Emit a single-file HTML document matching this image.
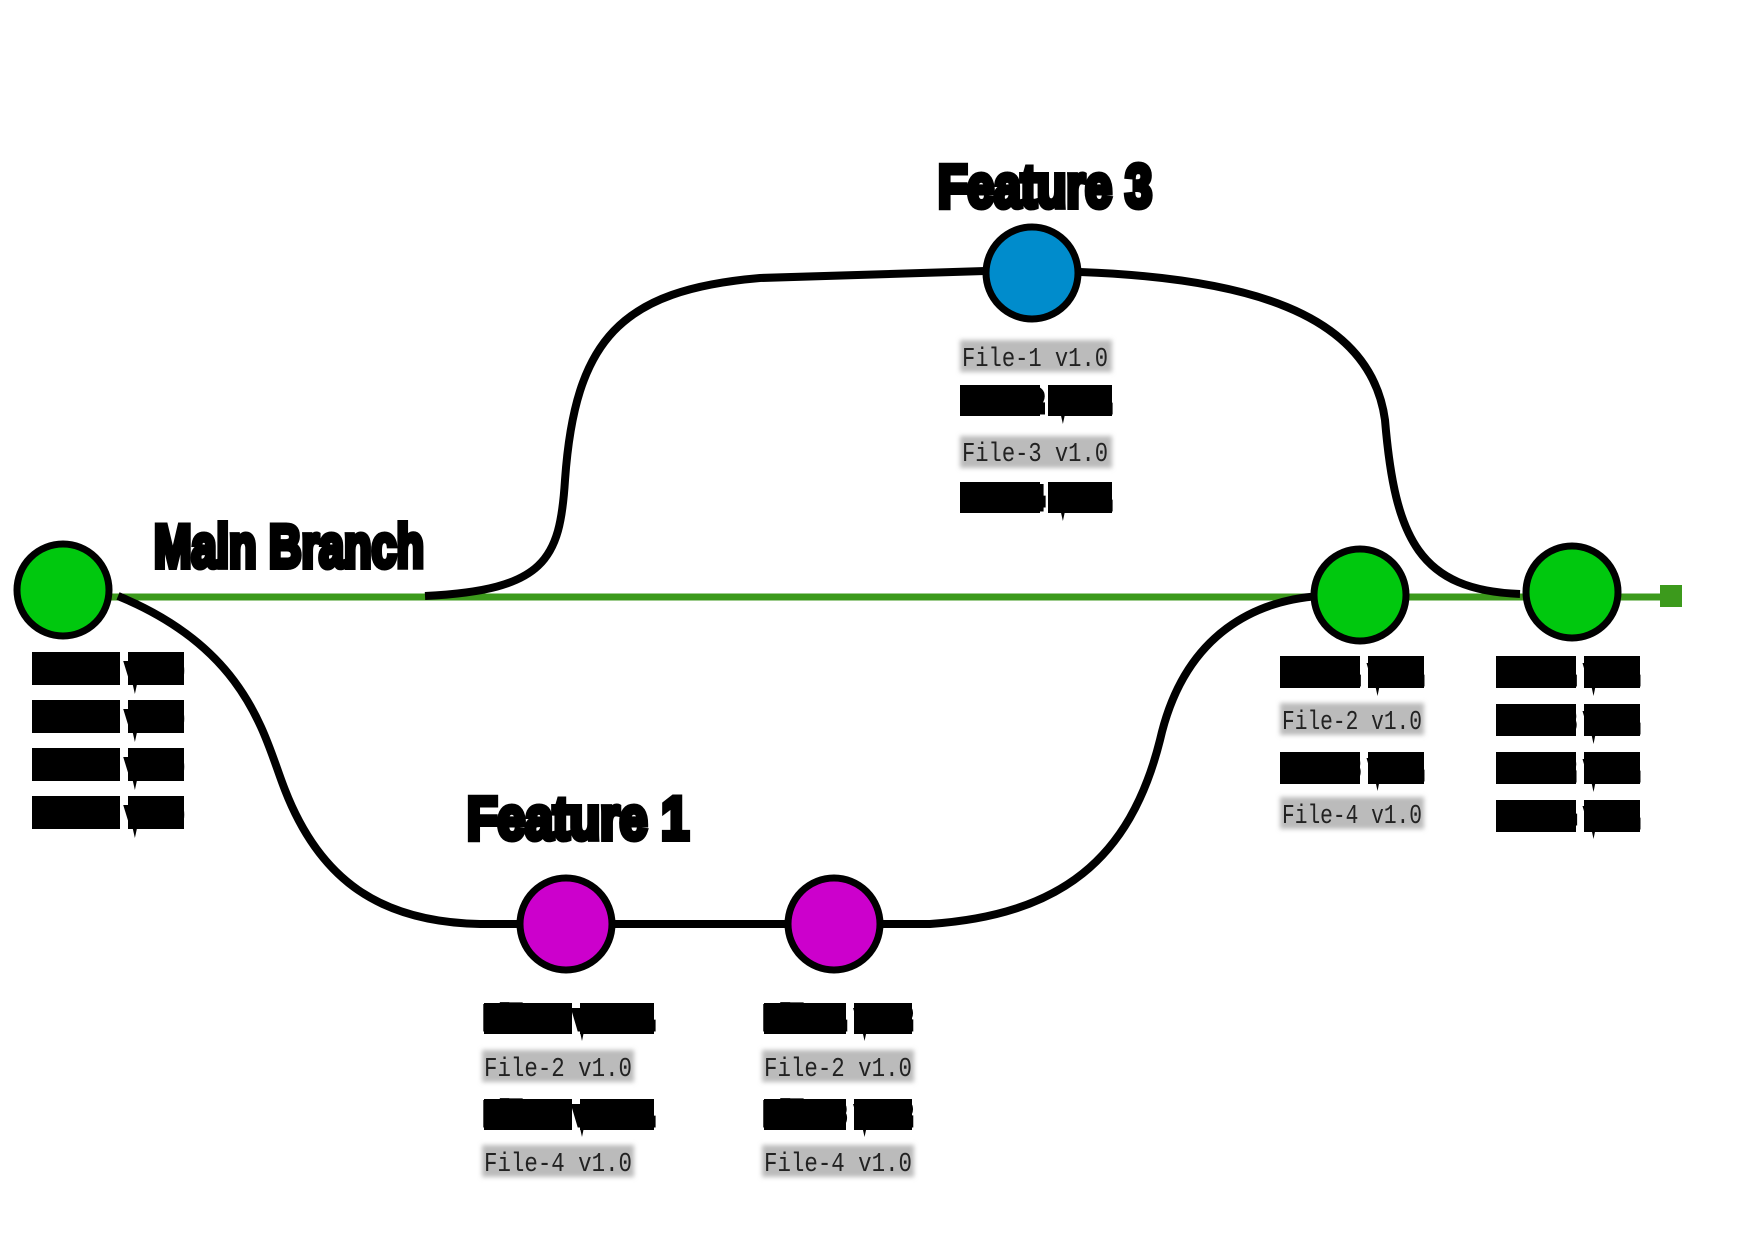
<!DOCTYPE html>
<html><head><meta charset="utf-8"><style>
html,body{margin:0;padding:0;background:#fff;}
svg{display:block}
.b{font-family:"Liberation Mono",monospace;font-weight:bold;font-size:28px;fill:#000;stroke:#000;stroke-width:9px}
.g{font-family:"Liberation Mono",monospace;font-size:27px;fill:#222;}
.t{font-family:"Liberation Sans",sans-serif;font-weight:bold;font-size:60px;fill:#000;stroke:#000;stroke-width:6px}
</style></head><body>
<svg width="1754" height="1240" viewBox="0 0 1754 1240" xmlns="http://www.w3.org/2000/svg">
<defs><filter id="bl" x="-10%" y="-30%" width="120%" height="160%"><feGaussianBlur stdDeviation="2.5"/></filter></defs>
<line x1="110" y1="597" x2="1672" y2="597" stroke="#3c9a1c" stroke-width="7"/>
<rect x="1660" y="585" width="22" height="22" fill="#3c9a1c"/>
<g fill="none" stroke="#000" stroke-width="8">
<path d="M425 596 C545 590 560 560 565 480 C575 340 620 290 760 278 L985 271"/>
<path d="M1080 272 C1240 278 1370 310 1385 420 C1395 540 1420 590 1520 594"/>
<path d="M118 596 C250 650 265 740 285 790 C320 880 380 922 480 924 L830 924 L930 924 C1060 915 1130 860 1160 740 C1185 630 1260 600 1320 596"/>
</g>
<g stroke="#000" stroke-width="7">
<circle cx="63" cy="590" r="46" fill="#00c80e"/>
<circle cx="1032" cy="273" r="46" fill="#008ccc"/>
<circle cx="1360" cy="595" r="46" fill="#00c80e"/>
<circle cx="1572" cy="592" r="46" fill="#00c80e"/>
<circle cx="566" cy="924" r="46" fill="#cc00cc"/>
<circle cx="834" cy="924" r="46" fill="#cc00cc"/>
</g>
<text class="t" x="938" y="207" textLength="214" lengthAdjust="spacingAndGlyphs">Feature 3</text>
<text class="t" x="154" y="567" textLength="270" lengthAdjust="spacingAndGlyphs">Main Branch</text>
<text class="t" x="467" y="839" textLength="222" lengthAdjust="spacingAndGlyphs">Feature 1</text>
<!-- black label blocks -->
<g fill="#000">
<rect x="32" y="652" width="88" height="33"/><rect x="128" y="652" width="56" height="33"/>
<rect x="32" y="700" width="88" height="33"/><rect x="128" y="700" width="56" height="33"/>
<rect x="32" y="748" width="88" height="33"/><rect x="128" y="748" width="56" height="33"/>
<rect x="32" y="796" width="88" height="33"/><rect x="128" y="796" width="56" height="33"/>
<rect x="960" y="385" width="80" height="31"/><rect x="1048" y="385" width="64" height="31"/>
<rect x="960" y="482" width="80" height="31"/><rect x="1048" y="482" width="64" height="31"/>
<rect x="1280" y="656" width="80" height="32"/><rect x="1368" y="656" width="56" height="32"/>
<rect x="1280" y="752" width="80" height="32"/><rect x="1368" y="752" width="56" height="32"/>
<rect x="1496" y="656" width="80" height="32"/><rect x="1584" y="656" width="56" height="32"/>
<rect x="1496" y="704" width="80" height="32"/><rect x="1584" y="704" width="56" height="32"/>
<rect x="1496" y="752" width="80" height="32"/><rect x="1584" y="752" width="56" height="32"/>
<rect x="1496" y="800" width="80" height="32"/><rect x="1584" y="800" width="56" height="32"/>
<rect x="484" y="1003" width="88" height="31"/><rect x="580" y="1003" width="74" height="31"/>
<rect x="484" y="1099" width="88" height="31"/><rect x="580" y="1099" width="74" height="31"/>
<rect x="764" y="1003" width="82" height="31"/><rect x="854" y="1003" width="58" height="31"/>
<rect x="764" y="1099" width="82" height="31"/><rect x="854" y="1099" width="58" height="31"/>
</g>
<g class="b">
<text x="34" y="680" textLength="148" lengthAdjust="spacingAndGlyphs">File-1 v1.0</text>
<text x="34" y="728" textLength="148" lengthAdjust="spacingAndGlyphs">File-2 v1.0</text>
<text x="34" y="776" textLength="148" lengthAdjust="spacingAndGlyphs">File-3 v1.0</text>
<text x="34" y="824" textLength="148" lengthAdjust="spacingAndGlyphs">File-4 v1.0</text>
<text x="962" y="410" textLength="148" lengthAdjust="spacingAndGlyphs">File-2 v1.1</text>
<text x="962" y="507" textLength="148" lengthAdjust="spacingAndGlyphs">File-4 v1.1</text>
<text x="1282" y="682" textLength="140" lengthAdjust="spacingAndGlyphs">File-1 v1.1</text>
<text x="1282" y="777" textLength="140" lengthAdjust="spacingAndGlyphs">File-3 v1.1</text>
<text x="1498" y="682" textLength="140" lengthAdjust="spacingAndGlyphs">File-1 v1.1</text>
<text x="1498" y="730" textLength="140" lengthAdjust="spacingAndGlyphs">File-3 v1.1</text>
<text x="1498" y="778" textLength="140" lengthAdjust="spacingAndGlyphs">File-2 v1.1</text>
<text x="1498" y="825" textLength="140" lengthAdjust="spacingAndGlyphs">File-4 v1.1</text>
<text x="485" y="1027" textLength="168" lengthAdjust="spacingAndGlyphs">File-1 v1.1.1</text>
<text x="485" y="1123" textLength="168" lengthAdjust="spacingAndGlyphs">File-3 v1.1.1</text>
<text x="765" y="1027" textLength="146" lengthAdjust="spacingAndGlyphs">File-1 v1.2</text>
<text x="765" y="1123" textLength="146" lengthAdjust="spacingAndGlyphs">File-3 v1.2</text>
</g>
<g fill="#bbb" filter="url(#bl)">
<rect x="960" y="340" width="152" height="32"/>
<rect x="960" y="436" width="152" height="32"/>
<rect x="1280" y="703" width="144" height="32"/>
<rect x="1280" y="797" width="144" height="32"/>
<rect x="482" y="1050" width="152" height="32"/>
<rect x="482" y="1145" width="152" height="32"/>
<rect x="762" y="1050" width="152" height="32"/>
<rect x="762" y="1145" width="152" height="32"/>
</g>
<g class="g">
<text x="962" y="366" textLength="146" lengthAdjust="spacingAndGlyphs">File-1 v1.0</text>
<text x="962" y="461" textLength="146" lengthAdjust="spacingAndGlyphs">File-3 v1.0</text>
<text x="1282" y="729" textLength="140" lengthAdjust="spacingAndGlyphs">File-2 v1.0</text>
<text x="1282" y="823" textLength="140" lengthAdjust="spacingAndGlyphs">File-4 v1.0</text>
<text x="484" y="1076" textLength="148" lengthAdjust="spacingAndGlyphs">File-2 v1.0</text>
<text x="484" y="1171" textLength="148" lengthAdjust="spacingAndGlyphs">File-4 v1.0</text>
<text x="764" y="1076" textLength="148" lengthAdjust="spacingAndGlyphs">File-2 v1.0</text>
<text x="764" y="1171" textLength="148" lengthAdjust="spacingAndGlyphs">File-4 v1.0</text>
</g>
</svg>
</body></html>
